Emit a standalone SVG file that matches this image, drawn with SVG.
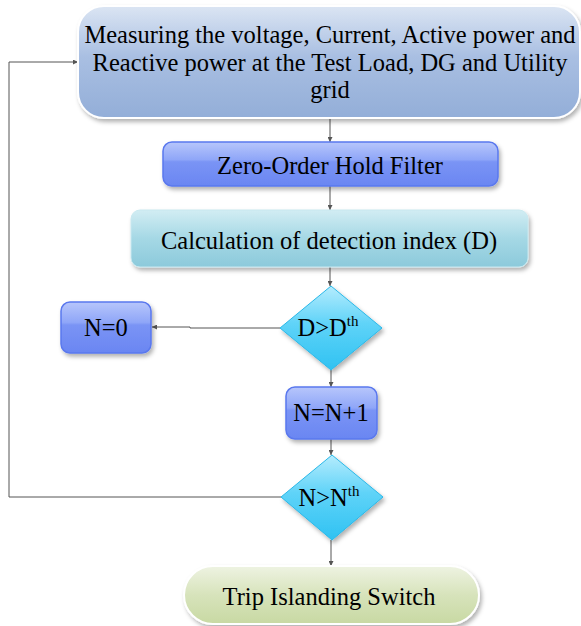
<svg xmlns="http://www.w3.org/2000/svg" width="581" height="626" viewBox="0 0 581 626">
<defs>
<linearGradient id="gTop" x1="0" y1="0" x2="0" y2="1"><stop offset="0" stop-color="#dbe5f3"/><stop offset="0.45" stop-color="#a9bfe2"/><stop offset="1" stop-color="#93aed8"/></linearGradient>
<linearGradient id="gBlue" x1="0" y1="0" x2="0" y2="1"><stop offset="0" stop-color="#b7c6fb"/><stop offset="0.4" stop-color="#8fa6f8"/><stop offset="0.45" stop-color="#7a94f5"/><stop offset="1" stop-color="#6a86f2"/></linearGradient>
<linearGradient id="gTeal" x1="0" y1="0" x2="0" y2="1"><stop offset="0" stop-color="#d2edf3"/><stop offset="0.5" stop-color="#a5d8e5"/><stop offset="1" stop-color="#8ccadb"/></linearGradient>
<linearGradient id="gDia" x1="0" y1="0" x2="0" y2="1"><stop offset="0" stop-color="#b5ecfd"/><stop offset="0.45" stop-color="#5fd3f8"/><stop offset="1" stop-color="#2fc2f2"/></linearGradient>
<linearGradient id="gGreen" x1="0" y1="0" x2="0" y2="1"><stop offset="0" stop-color="#eef3e2"/><stop offset="0.5" stop-color="#d7e3bb"/><stop offset="1" stop-color="#c8d9a3"/></linearGradient>
<filter id="sh" x="-10%" y="-10%" width="125%" height="135%"><feDropShadow dx="2" dy="3" stdDeviation="2" flood-color="#000" flood-opacity="0.3"/></filter>
<marker id="arr" viewBox="0 0 6 6" refX="6" refY="3" markerWidth="5" markerHeight="5" orient="auto"><path d="M0,0 L6,3 L0,6 z" fill="#555"/></marker>
</defs>
<style>
text{font-family:"Liberation Serif","Times New Roman",serif;fill:#000;text-anchor:middle}
.t{font-size:24.5px}
.big{font-size:24.5px}
.c{fill:none;stroke:#555;stroke-width:1}
</style>
<g id="connectors">
<path class="c" d="M330,118 V142" marker-end="url(#arr)"/>
<path class="c" d="M330,186 V210" marker-end="url(#arr)"/>
<path class="c" d="M330,267 V286" marker-end="url(#arr)"/>
<path class="c" d="M280,328 H190 V327 H152" marker-end="url(#arr)"/>
<path class="c" d="M331,370 V387" marker-end="url(#arr)"/>
<path class="c" d="M331,439 V455" marker-end="url(#arr)"/>
<path class="c" d="M331,540 V566" marker-end="url(#arr)"/>
<path class="c" d="M281,497 H9 V62 H78" marker-end="url(#arr)"/>
</g>
<g id="measure">
<rect x="78" y="6" width="502" height="112" rx="26" fill="url(#gTop)" stroke="#fff" stroke-width="2" filter="url(#sh)"/>
<text class="big" x="330" y="43">Measuring the voltage, Current, Active power and</text>
<text class="big" x="330" y="71">Reactive power at the Test Load, DG and Utility</text>
<text class="big" x="330" y="98">grid</text>
</g>
<g id="zoh">
<rect x="163" y="142" width="335" height="44" rx="9" fill="url(#gBlue)" stroke="#5a78ee" stroke-width="1.5" filter="url(#sh)"/>
<text class="t" x="330" y="174">Zero-Order Hold Filter</text>
</g>
<g id="calc">
<rect x="131" y="210" width="397" height="57" rx="9" fill="url(#gTeal)" stroke="#c8e8ef" stroke-width="1" filter="url(#sh)"/>
<text class="t" x="329" y="249">Calculation of detection index (D)</text>
</g>
<g id="dec1">
<path d="M331,286 L382,328 L331,370 L280,328 Z" fill="url(#gDia)" stroke="#2ab8e8" stroke-width="1" stroke-linejoin="round" filter="url(#sh)"/>
<text class="t" x="328" y="336">D&gt;D<tspan font-size="15" dy="-10">th</tspan></text>
</g>
<g id="n0">
<rect x="61" y="302" width="90" height="51" rx="9" fill="url(#gBlue)" stroke="#5a78ee" stroke-width="1.5" filter="url(#sh)"/>
<text class="t" x="106" y="336">N=0</text>
</g>
<g id="ninc">
<rect x="286" y="387" width="91" height="52" rx="9" fill="url(#gBlue)" stroke="#5a78ee" stroke-width="1.5" filter="url(#sh)"/>
<text class="t" x="331" y="421">N=N+1</text>
</g>
<g id="dec2">
<path d="M332,455 L383,497 L332,540 L281,497 Z" fill="url(#gDia)" stroke="#2ab8e8" stroke-width="1" stroke-linejoin="round" filter="url(#sh)"/>
<text class="t" x="329" y="506">N&gt;N<tspan font-size="15" dy="-10">th</tspan></text>
</g>
<g id="trip">
<rect x="184" y="566" width="295" height="58" rx="29" fill="url(#gGreen)" stroke="#fff" stroke-width="2" filter="url(#sh)"/>
<text class="t" x="329" y="605">Trip Islanding Switch</text>
</g>
</svg>
